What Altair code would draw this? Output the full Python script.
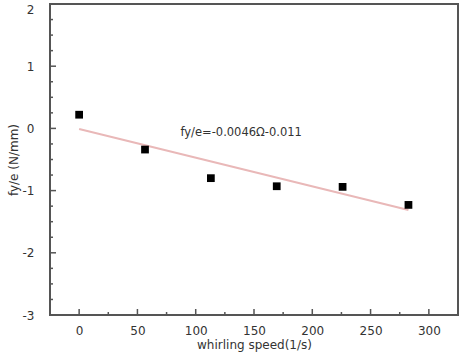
import altair as alt
import pandas as pd

speed = [0, 56.5, 113, 169.5, 226, 282.5]
fy_e = [0.22, -0.34, -0.80, -0.93, -0.94, -1.23]

fit_x = [0, 282.5]
fit_y = [-0.011, -0.0046 * 282.5 - 0.011]

x_major = [0, 50, 100, 150, 200, 250, 300]
x_minor = [25, 75, 125, 175, 225, 275]
y_major = [2, 1, 0, -1, -2, -3]
y_minor = [1.75, 1.5, 1.25, 0.75, 0.5, 0.25, -0.25, -0.5, -0.75,
           -1.25, -1.5, -1.75, -2.25, -2.5, -2.75]

W, H = 408, 311
FONT = "DejaVu Sans"
TXT = "#333333"
FRAME = "#555555"

xs = alt.Scale(domain=[-25, 325], nice=False, zero=False)
ys = alt.Scale(domain=[-3, 2], nice=False, zero=False)

pts = pd.DataFrame({"x": speed, "y": fy_e})
fit = pd.DataFrame({"x": fit_x, "y": fit_y})

xaxis = alt.Axis(values=x_major, title="whirling speed(1/s)", tickSize=0, domain=False,
                 grid=False, labelPadding=10, titlePadding=3, labelFontSize=12,
                 titleFontSize=12, labelFont=FONT, titleFont=FONT, labelColor=TXT,
                 titleColor=TXT, titleFontWeight="normal")
yaxis = alt.Axis(values=y_major, title="fy/e (N/mm)", tickSize=0, domain=False,
                 grid=False, labelPadding=16, titlePadding=2, labelFontSize=12,
                 titleFontSize=12, labelFont=FONT, titleFont=FONT, labelColor=TXT,
                 titleColor=TXT, titleFontWeight="normal",
                 labelExpr="replace(format(datum.value, 'd'), '\u2212', '-')",
                 labelBaseline={"condition": {"test": "datum.value == 2", "value": "top"},
                                "value": "middle"})

line = alt.Chart(fit).mark_line(color="#e9b8b8", strokeWidth=2).encode(
    x=alt.X("x:Q", scale=xs, axis=xaxis),
    y=alt.Y("y:Q", scale=ys, axis=yaxis),
)
points = alt.Chart(pts).mark_square(size=60, color="black", opacity=1).encode(
    x=alt.X("x:Q", scale=xs), y=alt.Y("y:Q", scale=ys))

label = alt.Chart(pd.DataFrame({"x": [139], "y": [-0.075], "t": ["fy/e=-0.0046\u03a9-0.011"]})).mark_text(
    font=FONT, fontSize=11.5, color=TXT).encode(
    x=alt.X("x:Q", scale=xs), y=alt.Y("y:Q", scale=ys), text="t:N")

def xticks(vals, length):
    return alt.Chart(pd.DataFrame({"v": vals})).mark_rule(color=FRAME, strokeWidth=1.5).encode(
        x=alt.X("v:Q", scale=xs), y=alt.value(H), y2=alt.value(H - length))

def yticks(vals, length):
    return alt.Chart(pd.DataFrame({"v": vals})).mark_rule(color=FRAME, strokeWidth=1.5).encode(
        y=alt.Y("v:Q", scale=ys), x=alt.value(0), x2=alt.value(length))

chart = alt.layer(
    line, points, label,
    xticks(x_major, 6), xticks(x_minor, 3), yticks(y_major, 6), yticks(y_minor, 3),
).properties(
    width=W, height=H,
    autosize=alt.AutoSizeParams(type="none"),
    padding={"left": 50, "top": 4, "right": 5, "bottom": 39},
    background="white",
).configure_view(stroke=FRAME, strokeWidth=2)

chart.save("out.html", embed_options={"renderer": "svg", "actions": False})
